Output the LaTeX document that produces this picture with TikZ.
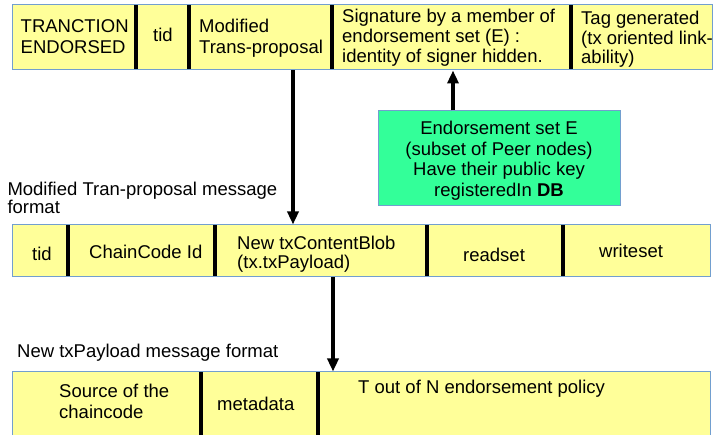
\documentclass[tikz,border=0pt]{standalone}
\usepackage{fontspec}
\setmainfont{Liberation Sans}
\usetikzlibrary{arrows.meta}
\definecolor{cellyellow}{RGB}{255,255,153}
\definecolor{cellborder}{RGB}{114,159,207}
\definecolor{endgreen}{RGB}{51,255,153}
\begin{document}
\begin{tikzpicture}[x=1pt,y=-1pt,
  rowbox/.style={draw=cellborder, line width=1pt, fill=cellyellow, inner sep=0pt},
  greenbox/.style={draw=cellborder, line width=1pt, fill=endgreen, inner sep=0pt},
  divider/.style={line width=3.3pt, black},
  arr/.style={line width=3.3pt, black, -{Triangle[length=13pt,width=11pt]}},
  txt/.style={inner sep=0pt, anchor=base west, align=left, font=\fontsize{18.5}{21}\selectfont},
  ctxt/.style={inner sep=0pt, anchor=base, align=center, font=\fontsize{18.5}{20.5}\selectfont}
]
\useasboundingbox (0,0) rectangle (715,435);
\fill[white] (0,0) rectangle (715,435);

% rows
\node[rowbox, minimum width=700pt, minimum height=65pt] (row1) at (362,37.5) {};
\node[rowbox, minimum width=698pt, minimum height=52pt] (row2) at (361,251) {};
\node[rowbox, minimum width=698pt, minimum height=80pt] (row3) at (361,412) {};
\node[greenbox, minimum width=242pt, minimum height=95pt] (green) at (499,158.5) {};

% dividers
\foreach \x in {136,189,332,571} \draw[divider] (\x,5.5) -- (\x,69.5);
\foreach \x in {68,215,427,563} \draw[divider] (\x,225.5) -- (\x,276.5);
\foreach \x in {201,318} \draw[divider] (\x,372.5) -- (\x,452);

% top row texts (positions give the baseline of the last line)
\node[txt] (t1) at (20.5,54) {TRANCTION\\ENDORSED};
\node[txt] (t2) at (153,42) {tid};
\node[txt] (t3) at (199,54) {Modified\\Trans-proposal};
\node[txt, font=\fontsize{18.5}{20.2}\selectfont] (t4) at (342,62.5) {Signature by a member of\\endorsement set (E) :\\identity of signer hidden.};
\node[txt, font=\fontsize{18.5}{19.5}\selectfont] (t5) at (581,64) {Tag generated\\(tx oriented link-\\ability)};

% green box text
\node[ctxt] (g1) at (499,196.5) {Endorsement set E\\(subset of Peer nodes)\\Have their public key\\registeredIn \textbf{DB}};

% middle labels
\node[txt, font=\fontsize{18.5}{17.3}\selectfont] (l1) at (7.3,213.3) {Modified Tran-proposal message\\format};
\node[txt] (m1) at (32,261) {tid};
\node[txt] (m2) at (89,258.3) {ChainCode Id};
\node[txt, font=\fontsize{18.5}{19}\selectfont] (m3) at (237,269) {New txContentBlob\\(tx.txPayload)};
\node[txt] (m4) at (463,261.7) {readset};
\node[txt] (m5) at (599,257.3) {writeset};

% bottom labels
\node[txt] (l2) at (17,357.3) {New txPayload message format};
\node[txt] (b1) at (59,418.3) {Source of the\\chaincode};
\node[txt] (b2) at (217,410) {metadata};
\node[txt] (b3) at (358,394) {T out of N endorsement policy};

% arrows
\coordinate (a1) at (293,0);
\coordinate (a2) at (453,0);
\coordinate (a3) at (333,0);
\draw[arr] (row1.south -| a1) -- (row2.north -| a1);
\draw[arr] (green.north -| a2) -- (row1.south -| a2);
\draw[arr] (row2.south -| a3) -- (row3.north -| a3);
\end{tikzpicture}
\end{document}
